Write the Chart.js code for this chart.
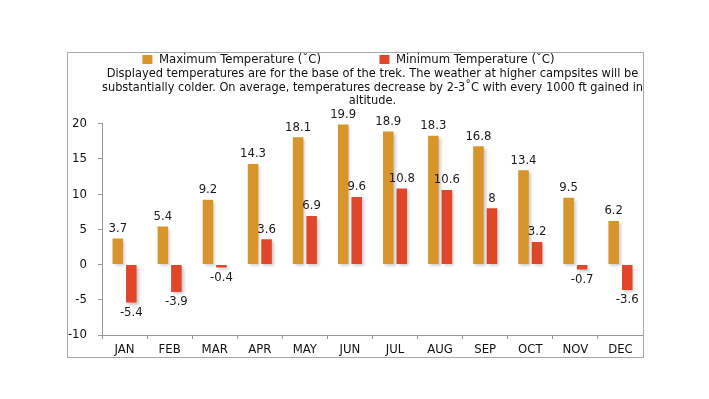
<!DOCTYPE html>
<html><head><meta charset="utf-8">
<script src="https://cdn.jsdelivr.net/npm/chart.js@4"></script>
<style>
html,body{margin:0;padding:0;background:#fff;}
#box{position:absolute;left:67px;top:52px;width:575px;height:304px;border:1px solid #a8a8a8;overflow:hidden;}
canvas{display:block;}
</style></head><body>
<div id="box"><canvas id="c" width="575" height="304"></canvas></div>
<script>
const months = ['JAN','FEB','MAR','APR','MAY','JUN','JUL','AUG','SEP','OCT','NOV','DEC'];
const maxTemps = [3.7, 5.4, 9.2, 14.3, 18.1, 19.9, 18.9, 18.3, 16.8, 13.4, 9.5, 6.2];
const minTemps = [-5.4, -3.9, -0.4, 3.6, 6.9, 9.6, 10.8, 10.6, 8, 3.2, -0.7, -3.6];
const seriesNames = ['Maximum Temperature (\u02DAC)', 'Minimum Temperature (\u02DAC)'];
const titleLines = [
  'Displayed temperatures are for the base of the trek. The weather at higher campsites will be',
  'substantially colder. On average, temperatures decrease by 2-3\u02DAC with every 1000 ft gained in',
  'altitude.'
];
const yMin = -10, yMax = 20, yStep = 5;

const FONT = '"DejaVu Sans Condensed", "DejaVu Sans", sans-serif';
const ORANGE = '#D8952A', RED = '#E0462A';

const barShadow = {
  id: 'barShadow',
  beforeDatasetsDraw(chart) {
    const c = chart.ctx; c.save();
    c.shadowColor = 'rgba(0,0,0,0.22)'; c.shadowBlur = 3; c.shadowOffsetX = 2; c.shadowOffsetY = 2;
  },
  afterDatasetsDraw(chart) { chart.ctx.restore(); }
};
const valueLabels = {
  id: 'valueLabels',
  afterDatasetsDraw(chart) {
    const ctx = chart.ctx; ctx.save();
    ctx.font = '13px ' + FONT; ctx.fillStyle = '#1a1a1a';
    ctx.textAlign = 'center'; ctx.textBaseline = 'middle';
    chart.data.datasets.forEach((ds, i) => {
      chart.getDatasetMeta(i).data.forEach((bar, j) => {
        const v = ds.data[j];
        ctx.fillText(String(v), bar.x, v >= 0 ? bar.y - 10 : bar.y + 10);
      });
    });
    ctx.restore();
  }
};

new Chart(document.getElementById('c'), {
  type: 'bar',
  data: {
    labels: months,
    datasets: [
      { label: seriesNames[0], data: maxTemps, backgroundColor: ORANGE, categoryPercentage: 0.6, barPercentage: 0.78 },
      { label: seriesNames[1], data: minTemps, backgroundColor: RED, categoryPercentage: 0.6, barPercentage: 0.78 }
    ]
  },
  options: {
    responsive: false, animation: false,
    layout: { padding: 0 },
    plugins: {
      tooltip: { enabled: false },
      legend: {
        position: 'top', weight: 1000,
        labels: {
          boxWidth: 10, boxHeight: 9, padding: 0, color: '#111',
          font: { family: FONT, size: 13 },
          generateLabels(chart) {
            const items = Chart.defaults.plugins.legend.labels.generateLabels(chart);
            items[0].text += '\u2003\u2003\u2003\u2003\u2003';
            items[1].text += '\u2003\u2009';
            return items;
          }
        }
      },
      title: {
        display: true, text: titleLines, fullSize: false, weight: 500,
        color: '#111', font: { family: FONT, size: 12.7, weight: 'normal', lineHeight: 1.07 },
        padding: { top: -9, bottom: 16 }
      }
    },
    scales: {
      x: {
        grid: { drawOnChartArea: false, tickLength: 4, color: '#999', offset: true },
        border: { color: '#999' },
        ticks: { color: '#111', font: { family: FONT, size: 13 }, padding: 3 },
        afterFit(s) { s.height = 22; }
      },
      y: {
        min: yMin, max: yMax,
        grid: { drawOnChartArea: false, tickLength: 4, color: '#999' },
        border: { color: '#999' },
        ticks: { stepSize: yStep, color: '#111', font: { family: FONT, size: 13 }, padding: 11 },
        afterFit(s) { s.width = 34; }
      }
    }
  },
  plugins: [barShadow, valueLabels]
});
</script>
</body></html>
